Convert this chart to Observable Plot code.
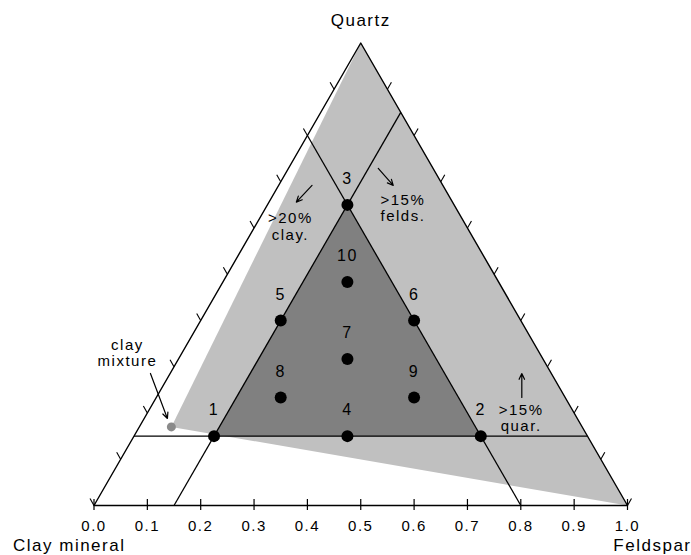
<!DOCTYPE html>
<html>
<head>
<meta charset="utf-8">
<script src="https://cdn.jsdelivr.net/npm/d3@7"></script>
<script src="https://cdn.jsdelivr.net/npm/@observablehq/plot@0.6"></script>
<style>
  html, body { margin: 0; padding: 0; background: #fff; overflow: hidden; }
  #chart svg text { letter-spacing: 1.5px; }
</style>
</head>
<body>
<div id="chart"></div>
<script>
// ---- Data (ternary fractions: clay mineral, feldspar, quartz) ----
const ids      = ["1", "2", "3", "4", "5", "6", "7", "8", "9", "10"];
const clay     = [0.70, 0.20, 0.20, 0.45, 0.45, 0.20, 0.3667, 0.5333, 0.2833, 0.2833];
const feldspar = [0.15, 0.65, 0.15, 0.40, 0.15, 0.40, 0.3167, 0.2333, 0.4833, 0.2333];
const quartz   = [0.15, 0.15, 0.65, 0.15, 0.40, 0.40, 0.3167, 0.2333, 0.2333, 0.4833];

// clay mixture composition
const mixClay = 0.77, mixFeldspar = 0.06, mixQuartz = 0.17;

// constraint lines: quartz >= 0.15, feldspar >= 0.15, clay >= 0.20
const quartzMin = 0.15, feldsparMin = 0.15, clayMin = 0.20;

// axis ticks
const bottomTicks = [0, 0.1, 0.2, 0.3, 0.4, 0.5, 0.6, 0.7, 0.8, 0.9, 1.0];
const bottomTickLabels = ["0.0", "0.1", "0.2", "0.3", "0.4", "0.5", "0.6", "0.7", "0.8", "0.9", "1.0"];
const edgeTicks = [0, 0.1, 0.2, 0.3, 0.4, 0.5, 0.6, 0.7, 0.8, 0.9];

// corner names
const cornerNames = ["Clay mineral", "Feldspar", "Quartz"];

// annotations (ternary-plane x, y)
const noteText = [">20%\nclay.", ">15%\nfelds.", ">15%\nquar.", "clay\nmixture"];
const noteX    = [0.368, 0.579, 0.8006, 0.0627];
const noteY    = [0.5225, 0.558, 0.1648, 0.2865];
const arrowX1  = [0.4087, 0.5328, 0.8019, 0.1058];
const arrowY1  = [0.5993, 0.6311, 0.2022, 0.2472];
const arrowX2  = [0.3792, 0.5609, 0.8019, 0.1376];
const arrowY2  = [0.5680, 0.5993, 0.2472, 0.1629];

// ---- helpers ----
const H = Math.sqrt(3) / 2;
const tern = (c, f, q) => ({x: f + q / 2, y: q * H});
const PX = 1 / 534; // data units per pixel (for tick lengths)

const designs = ids.map((id, i) => ({id, ...tern(clay[i], feldspar[i], quartz[i])}));
const mix = tern(mixClay, mixFeldspar, mixQuartz);
const C = tern(1, 0, 0), F = tern(0, 1, 0), Q = tern(0, 0, 1);

const lightRegion = [mix, Q, F, mix];
const darkRegion = [designs[0], designs[1], designs[2], designs[0]];
const outline = [C, F, Q, C];

const constraintLines = [
  [tern(1 - quartzMin, 0, quartzMin), tern(0, 1 - quartzMin, quartzMin)],
  [tern(1 - feldsparMin, feldsparMin, 0), tern(0, feldsparMin, 1 - feldsparMin)],
  [tern(clayMin, 1 - clayMin, 0), tern(clayMin, 0, 1 - clayMin)]
].map(([a, b]) => ({x1: a.x, y1: a.y, x2: b.x, y2: b.y}));

const L = 8 * PX;
const leftTicks = edgeTicks.map(q => { const p = tern(1 - q, 0, q); return {x1: p.x, y1: p.y, x2: p.x - 0.5 * L, y2: p.y + H * L}; });
const rightTicks = edgeTicks.map(q => { const p = tern(0, 1 - q, q); return {x1: p.x, y1: p.y, x2: p.x + 0.5 * L, y2: p.y + H * L}; });

const notes = noteText.map((t, i) => ({t, x: noteX[i], y: noteY[i]}));
const arrows = arrowX1.map((_, i) => ({x1: arrowX1[i], y1: arrowY1[i], x2: arrowX2[i], y2: arrowY2[i]}));
const bottom = bottomTicks.map((v, i) => ({v, label: bottomTickLabels[i]}));

const chart = Plot.plot({
  width: 691,
  height: 555,
  marginLeft: 93.5,
  marginRight: 64,
  marginTop: 42.5,
  marginBottom: 50,
  x: {domain: [0, 1], axis: null},
  y: {domain: [0, H], axis: null},
  style: {fontFamily: "'Liberation Sans', Arial, sans-serif", background: "#fff", color: "#000"},
  marks: [
    Plot.line(lightRegion, {x: "x", y: "y", fill: "#c0c0c0", stroke: "none"}),
    Plot.line(darkRegion, {x: "x", y: "y", fill: "#808080", stroke: "none"}),
    Plot.link(constraintLines, {x1: "x1", y1: "y1", x2: "x2", y2: "y2", stroke: "#000", strokeWidth: 1.3}),
    Plot.line(outline, {x: "x", y: "y", stroke: "#000", strokeWidth: 1.4}),
    Plot.link(leftTicks, {x1: "x1", y1: "y1", x2: "x2", y2: "y2", stroke: "#000", strokeWidth: 1.1}),
    Plot.link(rightTicks, {x1: "x1", y1: "y1", x2: "x2", y2: "y2", stroke: "#000", strokeWidth: 1.1}),
    Plot.ruleX(bottom, {x: "v", y1: -5 * PX, y2: 6 * PX, stroke: "#000", strokeWidth: 1.2}),
    Plot.text(bottom, {x: "v", y: 0, text: "label", dy: 21, fontSize: 15, fill: "#000"}),
    Plot.dot([mix], {x: "x", y: "y", r: 4.5, fill: "#8a8a8a", stroke: "none"}),
    Plot.dot(designs, {x: "x", y: "y", r: 6, fill: "#000", stroke: "none"}),
    Plot.text(designs, {x: "x", y: "y", text: "id", dy: -26, fontSize: 16, fill: "#000"}),
    Plot.arrow(arrows, {x1: "x1", y1: "y1", x2: "x2", y2: "y2", stroke: "#000", strokeWidth: 1.2, headLength: 8, headAngle: 50}),
    Plot.text(notes, {x: "x", y: "y", text: "t", fontSize: 15, lineHeight: 1.1, fill: "#000"}),
    Plot.text([C], {x: "x", y: "y", text: [cornerNames[0]], textAnchor: "start", dx: -81, dy: 40, fontSize: 17, fill: "#000"}),
    Plot.text([F], {x: "x", y: "y", text: [cornerNames[1]], textAnchor: "end", dx: 64, dy: 40, fontSize: 17, fill: "#000"}),
    Plot.text([Q], {x: "x", y: "y", text: [cornerNames[2]], dy: -22, fontSize: 17, fill: "#000"})
  ]
});
document.getElementById("chart").append(chart);
</script>
</body>
</html>
